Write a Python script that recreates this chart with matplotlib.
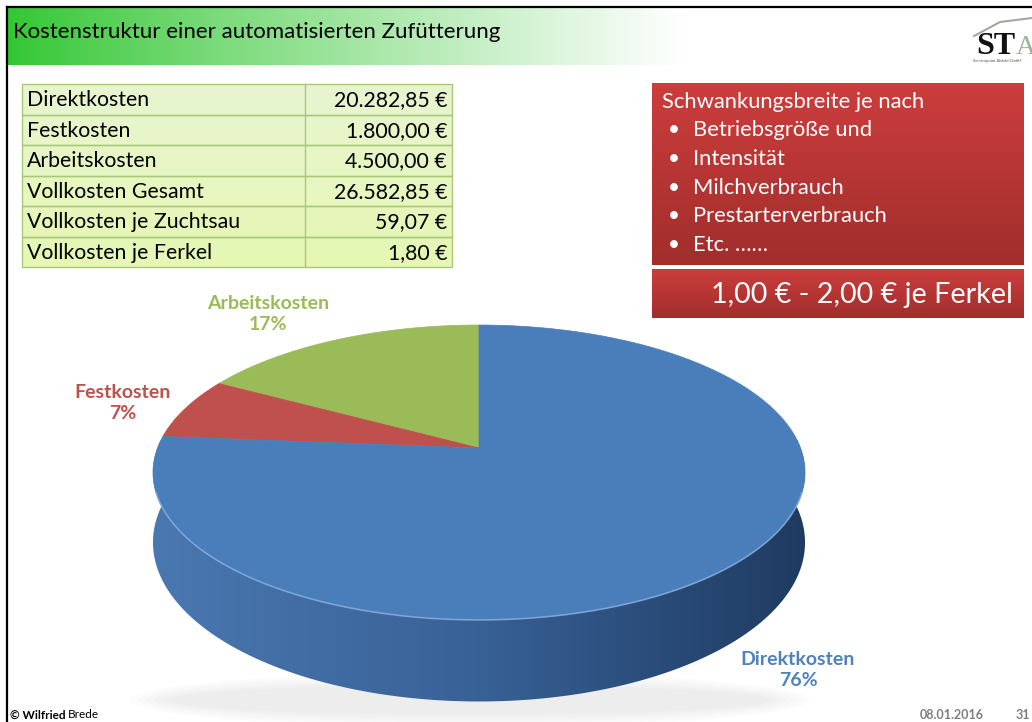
import numpy as np
import matplotlib.pyplot as plt
from matplotlib.patches import Polygon, Rectangle, Ellipse

# data
slice_labels = ["Arbeitskosten", "Festkosten", "Direktkosten"]
slice_values = [4500.00, 1800.00, 20282.85]
slice_colors = ["#9bbb59", "#c0504d", "#4a7ebb"]
label_colors = ["#9bbb59", "#c0504d", "#4f81bd"]

table_labels = ["Direktkosten", "Festkosten", "Arbeitskosten", "Vollkosten Gesamt",
                "Vollkosten je Zuchtsau", "Vollkosten je Ferkel"]
table_values = [20282.85, 1800.00, 4500.00, 26582.85, 59.07, 1.80]

box_title = "Schwankungsbreite je nach"
box_items = ["Betriebsgröße und", "Intensität", "Milchverbrauch", "Prestarterverbrauch", "Etc. ……"]
range_text = "1,00 € - 2,00 € je Ferkel"

FONT = "Lato"


def eur(v):
    s = f"{v:,.2f}".replace(",", "X").replace(".", ",").replace("X", ".")
    return s + " €"


fig = plt.figure(figsize=(10.32, 7.22), dpi=100)
ax = fig.add_axes([0, 0, 1, 1])
ax.set_xlim(0, 1032)
ax.set_ylim(722, 0)
ax.axis("off")

# slide frame + header gradient
grad = np.linspace(0, 1, 256)
g0 = np.array([0.20, 0.78, 0.20])
white = np.array([1.0, 1.0, 1.0])
t = np.clip(grad / 0.66, 0, 1)[:, None] ** 0.9
hdr = (g0 * (1 - t) + white * t)[None, :, :]
ax.imshow(hdr, extent=(8, 1032, 65, 8), aspect="auto", zorder=1)
ax.plot([7, 7], [7, 722], color="black", lw=1.6, zorder=5)
ax.plot([7, 1032], [7, 7], color="black", lw=1.6, zorder=5)
ax.text(13, 32, "Kostenstruktur einer automatisierten Zufütterung", fontsize=16,
        family=FONT, va="center", ha="left", color="black", zorder=3)

# logo
ax.plot([974, 1000, 1032], [36, 22, 18], color="#a0a8a0", lw=1.5, zorder=3)
ax.text(976, 54, "ST", fontsize=23, family="Liberation Serif", fontweight="bold",
        va="baseline", ha="left", color="#111111", zorder=3)
ax.text(1016, 54, "A", fontsize=20, family="Liberation Serif",
        va="baseline", ha="left", color="#9bb49b", zorder=3)
ax.text(973, 61, "Servicepoint Alsfeld GmbH", fontsize=3, family=FONT,
        va="center", ha="left", color="#555555", zorder=3)

# table
tx0, tx1, tsplit = 22, 452, 305
ty0, rh = 84, 30.5
n = len(table_labels)
tg = np.linspace(0, 1, 64)[:, None]
c_top = np.array([0.91, 0.96, 0.82])
c_bot = np.array([0.90, 0.97, 0.70])
tab = (c_top * (1 - tg) + c_bot * tg)[:, None, :]
ax.imshow(tab, extent=(tx0, tx1, ty0 + n * rh, ty0), aspect="auto", zorder=2)
for i, (lab, val) in enumerate(zip(table_labels, table_values)):
    y = ty0 + i * rh
    ax.add_patch(Rectangle((tx0, y), tx1 - tx0, rh, fill=False, ec="#a9c97a", lw=1, zorder=3))
    ax.text(tx0 + 5, y + rh / 2 + 1, lab, fontsize=15.3, family=FONT, va="center",
            ha="left", zorder=4)
    ax.text(tx1 - 5, y + rh / 2 + 1, eur(val), fontsize=15.3, family=FONT, va="center",
            ha="right", zorder=4)
ax.plot([tsplit, tsplit], [ty0, ty0 + n * rh], color="#a9c97a", lw=1, zorder=3)

# red boxes
r_top = np.array([0.80, 0.24, 0.24])
r_bot = np.array([0.63, 0.18, 0.17])
rg = np.linspace(0, 1, 64)[:, None]
red = (r_top * (1 - rg) + r_bot * rg)[:, None, :]
ax.imshow(red, extent=(652, 1024, 265, 83), aspect="auto", zorder=2)
ax.imshow(red, extent=(652, 1024, 318, 269), aspect="auto", zorder=2)
ax.text(662, 102, box_title, fontsize=15.8, family=FONT, color="white", va="center", zorder=4)
for i, item in enumerate(box_items):
    y = 130 + i * 28.8
    ax.text(668, y, "•", fontsize=15, family=FONT, color="white", va="center", zorder=4)
    ax.text(693, y, item, fontsize=15.8, family=FONT, color="white", va="center", zorder=4)
ax.text(1013, 295, range_text, fontsize=20.7, family=FONT, color="white",
        va="center", ha="right", zorder=4)

# 3d pie (simple perspective projection of a disc)
cx, cy, A, B, k, D0 = 479, 448, 321.5, 143.4, 0.166, 68


def proj(x, y, depth=0.0):
    w = 1 - k * y
    return cx + A * x / w, cy + B * y / w + depth * D0 / w


# faint shadow under the pie
for s in range(6):
    ax.add_patch(Ellipse((470, 700), 600 + s * 16, 30 + s * 5, color="#000000",
                         alpha=0.012, lw=0, zorder=5))

# side wall: one outline, filled with a horizontal gradient
phi = np.linspace(np.pi / 2 - 0.4, 3 * np.pi / 2 + 0.4, 400)
xs, ys = -np.sin(phi), -np.cos(phi)
outline = [proj(x, y) for x, y in zip(xs, ys)] + \
          [proj(x, y, 1) for x, y in zip(xs, ys)][::-1]
side = Polygon(outline, closed=True, fc="none", ec="none", zorder=6)
ax.add_patch(side)
side_cols = np.array([[0.29, 0.47, 0.69], [0.22, 0.38, 0.59], [0.12, 0.23, 0.38]])
tt = np.linspace(0, 1, 256)[:, None]
left = np.clip(1 - 2 * tt, 0, 1)
right = np.clip(2 * tt - 1, 0, 1)
mid = 1 - left - right
side_img = (left * side_cols[0] + mid * side_cols[1] + right * side_cols[2])[None, :, :]
im = ax.imshow(side_img, extent=(cx - A * 1.02, cx + A * 1.02, 720, 440),
               aspect="auto", zorder=6)
im.set_clip_path(side)

# top surface slices
fracs = np.array(slice_values) / np.sum(slice_values)
edges = np.concatenate([[0], np.cumsum(fracs)]) * 2 * np.pi
for i in range(len(fracs)):
    a = np.linspace(edges[i], edges[i + 1], 200)
    pts = [proj(0, 0)] + [proj(-np.sin(v), -np.cos(v)) for v in a]
    ax.add_patch(Polygon(pts, closed=True, fc=slice_colors[i], ec=slice_colors[i],
                         lw=0.5, zorder=7))

# light rim on the front edge
a = np.linspace(np.pi / 2 + 0.3, 3 * np.pi / 2 - 0.3, 200)
rim = np.array([proj(-np.sin(v), -np.cos(v)) for v in a])
ax.plot(rim[:, 0], rim[:, 1], color="#8fb4e0", lw=1.2, alpha=0.7, zorder=8)

# data labels
label_pos = [(268, 314), (123, 403), (798, 670)]
for i, (lx, ly) in enumerate(label_pos):
    ax.text(lx, ly, f"{slice_labels[i]}\n{round(fracs[i] * 100):.0f}%", fontsize=14,
            family=FONT, fontweight="bold", color=label_colors[i], ha="center",
            va="center", linespacing=1.25, zorder=9)

# footer
ax.text(10, 715, "© Wilfried", fontsize=8.5, family=FONT, fontweight="bold",
        va="center", ha="left", zorder=4)
ax.text(68, 715, "Brede", fontsize=8.5, family=FONT, va="center", ha="left", zorder=4)
ax.text(984, 715, "08.01.2016", fontsize=9, family=FONT, fontweight="bold",
        color="#7f7f7f", va="center", ha="right", zorder=4)
ax.text(1030, 715, "31", fontsize=9, family=FONT, fontweight="bold",
        color="#7f7f7f", va="center", ha="right", zorder=4)

fig.savefig("out.png", dpi=100)
